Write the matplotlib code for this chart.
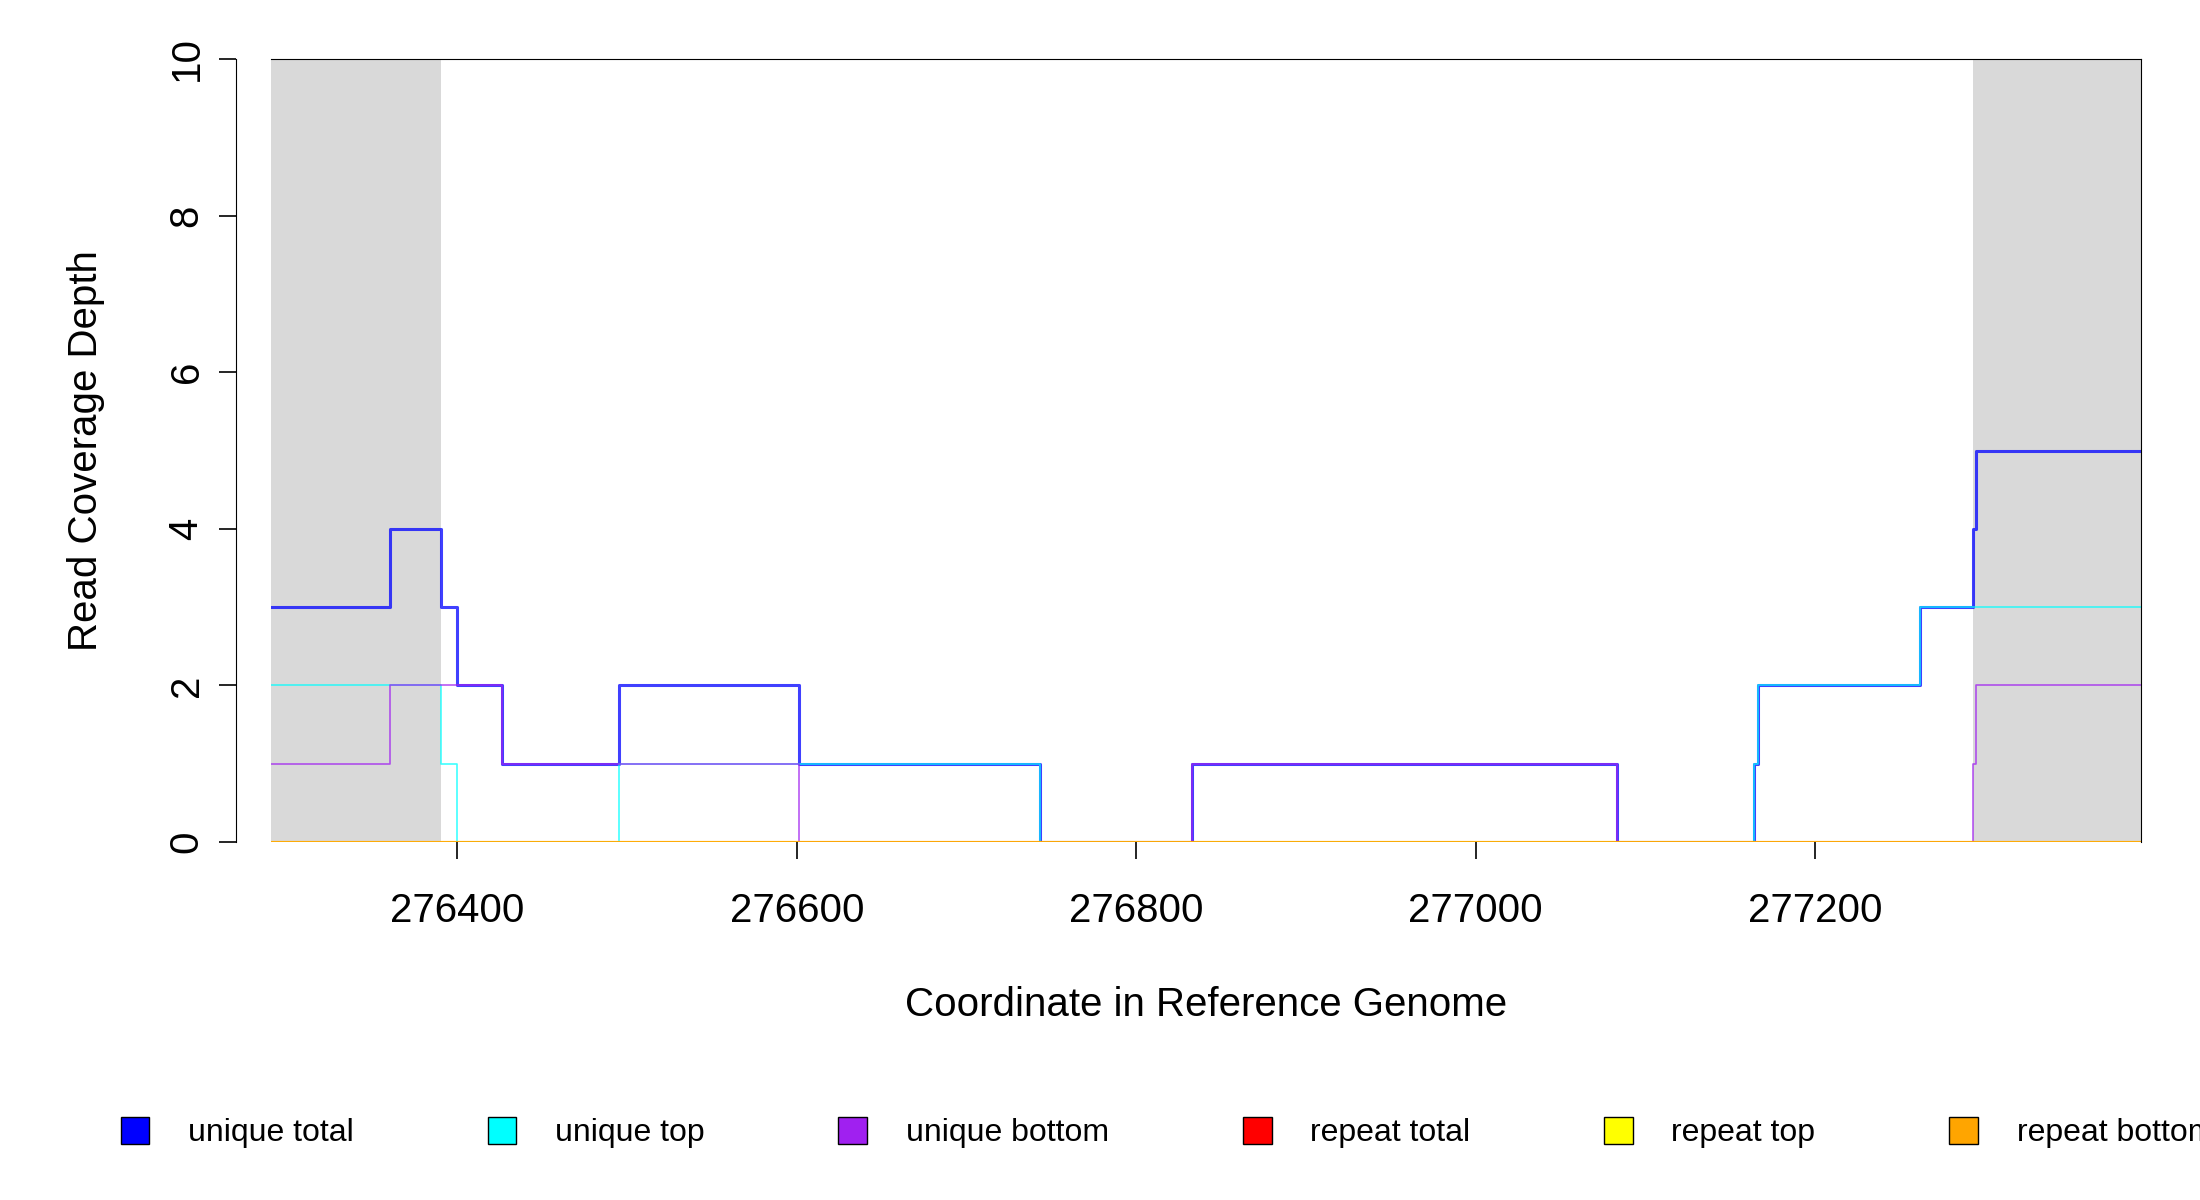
import matplotlib.pyplot as plt
from matplotlib.patches import Patch

plt.rcParams['font.family'] = ['Liberation Sans', 'DejaVu Sans']

# step edges (genome coordinate) and depths for each series
edges = [276290, 276360, 276390, 276400, 276426, 276495, 276601, 276743, 276833,
         277083, 277164, 277166, 277262, 277293, 277295, 277392]
unique_total = [3, 4, 3, 2, 1, 2, 1, 0, 1, 0, 1, 2, 3, 4, 5]
unique_top = [2, 2, 1, 0, 0, 1, 1, 0, 0, 0, 1, 2, 3, 3, 3]
unique_bottom = [1, 2, 2, 2, 1, 1, 0, 0, 1, 0, 0, 0, 0, 1, 2]
repeat_total = [0] * 15
repeat_top = [0] * 15
repeat_bottom = [0] * 15

shaded = [(276290, 276390), (277293, 277392)]
labels = ['unique total', 'unique top', 'unique bottom', 'repeat total', 'repeat top', 'repeat bottom']
colors = ['#0000ff', '#00ffff', '#a020f0', '#ff0000', '#ffff00', '#ffa500']


def steps(vals):
    return edges, list(vals) + [vals[-1]]


W, H = 1568, 855
fig = plt.figure(figsize=(22, 12), dpi=100)
ax = fig.add_axes([193 / W, 1 - 600 / H, (1526 - 193) / W, (600 - 42) / H])

for a, b in shaded:
    ax.axvspan(a, b, color='#d9d9d9', lw=0, zorder=0)

series = [unique_total, unique_top, unique_bottom, repeat_total, repeat_top, repeat_bottom]
widths = [2.2, 1.2, 1.2, 1.2, 1.2, 1.6]
for vals, c, w in zip(series, colors, widths):
    x, y = steps(vals)
    ax.step(x, y, where='post', color=c, lw=w, alpha=0.75)

ax.set_xlim(edges[0], edges[-1])
ax.set_ylim(0, 10)
ax.spines['left'].set_position(('outward', 25))
ax.spines['left'].set_bounds(0, 10)
ax.spines['bottom'].set_visible(False)
ax.set_xticks([276400, 276600, 276800, 277000, 277200])
ax.set_yticks([0, 2, 4, 6, 8, 10])
ax.tick_params(axis='both', labelsize=29, length=12, width=1.2)
ax.tick_params(axis='x', pad=24)
ax.tick_params(axis='y', pad=10)
for t in ax.get_yticklabels():
    t.set_rotation(90)
    t.set_va('center')
ax.set_xlabel('Coordinate in Reference Genome', fontsize=29, labelpad=40)
ax.set_ylabel('Read Coverage Depth', fontsize=29, labelpad=45)

handles = [Patch(facecolor=c, edgecolor='black', lw=1) for c in colors]
fig.legend(handles, labels, loc='center', bbox_to_anchor=(832 / W, 1 - 807 / H), ncol=6,
           frameon=False, fontsize=23, handlelength=0.9, handleheight=0.9,
           columnspacing=4.2, handletextpad=1.2)

fig.savefig('out.png')
